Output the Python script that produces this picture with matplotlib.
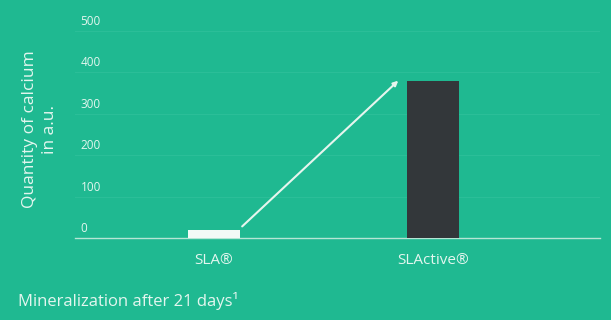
import matplotlib
matplotlib.use("Agg")
import matplotlib.pyplot as plt
from matplotlib.transforms import ScaledTranslation

categories = ["SLA®", "SLActive®"]
values = [20, 380]
bar_colors = ["#f3faf7", "#33373a"]
yticks = [0, 100, 200, 300, 400, 500]
ylabel = "Quantity of calcium\nin a.u."
footnote = "Mineralization after 21 days¹"

bg = "#1fb991"
txt = "#e3f6ef"

plt.rcParams["font.family"] = ["Open Sans", "DejaVu Sans"]

fig = plt.figure(figsize=(6.11, 3.2), dpi=100, facecolor=bg)
ax = fig.add_axes([75/611, (320-238)/320, 525/611, (238-31)/320])
ax.set_facecolor(bg)

x = list(range(len(categories)))
w = 0.237
ax.bar(x, values, width=w, color=bar_colors, zorder=3)

ax.set_xlim(-0.635, 1.763)
ax.set_ylim(0, 500)
ax.set_yticks(yticks)
ax.set_yticklabels([str(t) for t in yticks])
ax.yaxis.grid(True, color="#2bbe98", linewidth=0.8)
ax.set_axisbelow(True)
ax.tick_params(axis="y", length=0, labelsize=8.5, labelcolor=txt, pad=-4)
for lab in ax.get_yticklabels():
    lab.set_horizontalalignment("left")
    lab.set_transform(lab.get_transform() + ScaledTranslation(0, 11/100, fig.dpi_scale_trans))

ax.set_xticks(x)
ax.set_xticklabels(categories)
ax.tick_params(axis="x", length=0, labelsize=11, labelcolor=txt, pad=11)

for s in ["top", "right", "left"]:
    ax.spines[s].set_visible(False)
ax.spines["bottom"].set_color("#b5e6d5")
ax.spines["bottom"].set_linewidth(1.0)

ax.annotate("", xy=(x[1] - w/2 - 0.04, values[1]),
            xytext=(x[0] + w/2 + 0.01, values[0] + 8),
            arrowprops=dict(arrowstyle="-|>", color="#e6f5ee", lw=1.5,
                            mutation_scale=7, shrinkA=0, shrinkB=0), zorder=4)

fig.text(40/611, 1 - 129/320, ylabel, rotation=90, ha="center", va="center",
         color=txt, fontsize=12.5, linespacing=1.4)
fig.text(18/611, 1 - 301/320, footnote, ha="left", va="center",
         color=txt, fontsize=12)

fig.savefig("out.png", dpi=100, facecolor=bg)
